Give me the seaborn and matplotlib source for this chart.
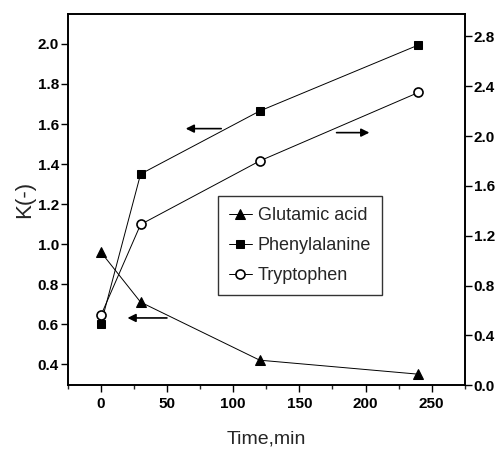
import pandas as pd
import matplotlib
matplotlib.use('Agg')
import matplotlib.pyplot as plt
from matplotlib.ticker import MultipleLocator, FormatStrFormatter
import seaborn as sns
sns.set_style('ticks')
plt.rcParams['font.family'] = ['Liberation Sans', 'DejaVu Sans']

# data
time_min = [0, 30, 120, 240]
glutamic = [0.96, 0.71, 0.42, 0.35]        # left axis
phenylalanine = [0.60, 1.35, 1.665, 1.995]  # left axis
tryptophan = [0.56, 1.29, 1.80, 2.35]      # right axis

df = pd.DataFrame({'Time': time_min, 'Glu': glutamic,
                   'Phe': phenylalanine, 'Trp': tryptophan})

fig = plt.figure(figsize=(4.95, 4.5), dpi=100)
ax = fig.add_axes([0.137, 0.144, 0.802, 0.825])
ax2 = ax.twinx()

line_kw = dict(color='black', linewidth=0.7)
sns.lineplot(data=df, x='Time', y='Glu', ax=ax, marker='^', markersize=7,
             markerfacecolor='black', markeredgecolor='black',
             label='Glutamic acid', **line_kw)
sns.lineplot(data=df, x='Time', y='Phe', ax=ax, marker='s', markersize=5.5,
             markerfacecolor='black', markeredgecolor='black',
             label='Phenylalanine', **line_kw)
sns.lineplot(data=df, x='Time', y='Trp', ax=ax2, marker='o', markersize=6.5,
             markerfacecolor='white', markeredgecolor='black',
             markeredgewidth=1.2, label='Tryptophen', **line_kw)

ax.set_xlim(-25, 275)
ax.set_ylim(0.295, 2.15)
ax2.set_ylim(0, 2.98)

ax.xaxis.set_major_locator(MultipleLocator(50))
ax.xaxis.set_minor_locator(MultipleLocator(25))
ax.yaxis.set_major_locator(MultipleLocator(0.2))
ax2.yaxis.set_major_locator(MultipleLocator(0.4))
ax.yaxis.set_major_formatter(FormatStrFormatter('%.1f'))
ax2.yaxis.set_major_formatter(FormatStrFormatter('%.1f'))

for a in (ax, ax2):
    a.tick_params(axis='both', which='major', direction='out', length=5,
                  width=1, labelsize=11, colors='black')
    a.tick_params(axis='y', pad=1.5)
    a.tick_params(axis='x', which='minor', direction='out', length=3, width=1)
    for s in a.spines.values():
        s.set_visible(True)
        s.set_linewidth(1.2)
        s.set_color('black')
for lbl in ax.get_xticklabels() + ax.get_yticklabels() + ax2.get_yticklabels():
    lbl.set_fontweight('bold')

ax.set_xlabel('Time,min', fontsize=14, labelpad=14)
ax.set_ylabel('K(-)', fontsize=16, labelpad=2)
ax2.set_ylabel('')

# arrows pointing to the axis each curve belongs to
arrow = dict(arrowstyle='-|>', color='black', lw=1.2, mutation_scale=12)
ax.annotate('', xy=(62, 1.577), xytext=(93, 1.577), arrowprops=arrow)
ax.annotate('', xy=(205, 1.557), xytext=(176, 1.557), arrowprops=arrow)
ax.annotate('', xy=(18, 0.631), xytext=(52, 0.631), arrowprops=arrow)

h1, l1 = ax.get_legend_handles_labels()
h2, l2 = ax2.get_legend_handles_labels()
if ax2.get_legend():
    ax2.get_legend().remove()
leg = ax.legend(h1 + h2, l1 + l2, loc='upper left',
                bbox_to_anchor=(0.378, 0.509), borderaxespad=0,
                frameon=True, fancybox=False, edgecolor='black',
                fontsize=13, handlelength=1.3, handletextpad=0.3,
                borderpad=0.6, labelspacing=0.72)
leg.get_frame().set_linewidth(1.0)

fig.savefig('out.png', dpi=100)
